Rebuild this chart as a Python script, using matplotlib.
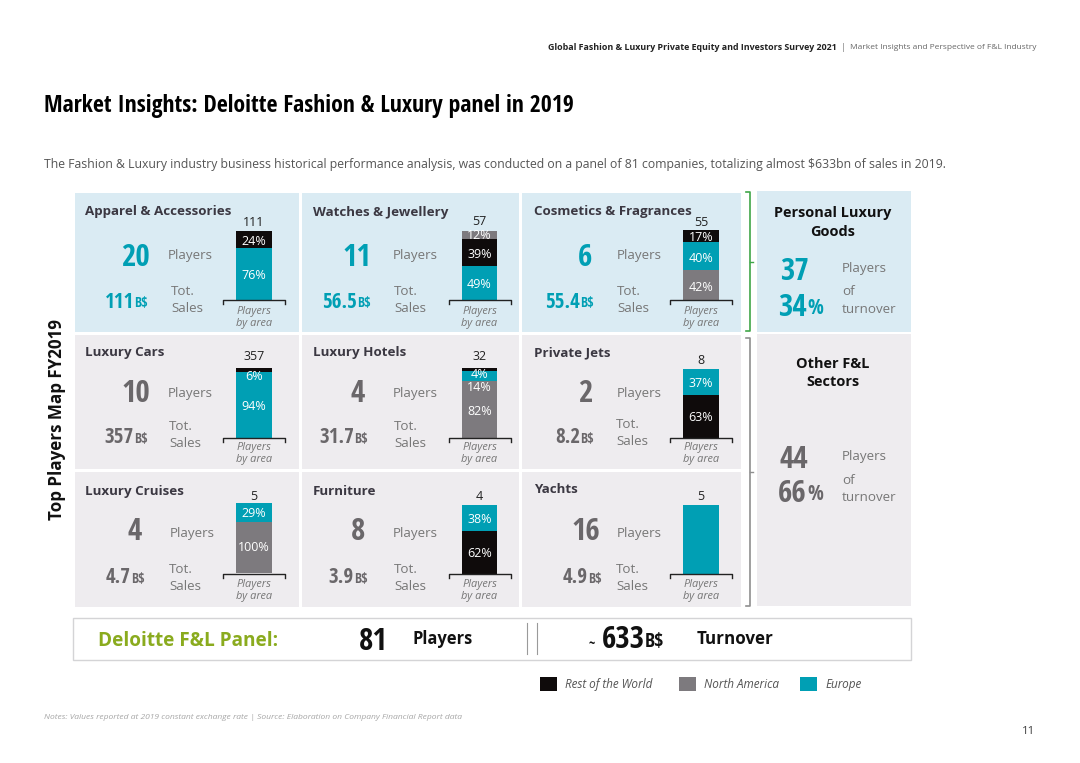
import logging
import matplotlib
matplotlib.use('Agg')
from matplotlib import pyplot as plt
from matplotlib.patches import Rectangle

logging.getLogger('matplotlib.font_manager').setLevel(logging.ERROR)

# ---- data
panel_names = ['Apparel & Accessories', 'Watches & Jewellery', 'Cosmetics & Fragrances',
               'Luxury Cars', 'Luxury Hotels', 'Private Jets',
               'Luxury Cruises', 'Furniture', 'Yachts']
panel_players = ['20', '11', '6', '10', '4', '2', '4', '8', '16']
panel_sales = ['111', '56.5', '55.4', '357', '31.7', '8.2', '4.7', '3.9', '4.9']
panel_totals = ['111', '57', '55', '357', '32', '8', '5', '4', '5']

# stacks go bottom to top
bar_values = [[76, 24], [49, 39, 12], [42, 40, 17],
              [94, 6], [82, 14, 4], [63, 37],
              [73, 27], [62, 38], [100]]
bar_areas = [['eu', 'row'], ['eu', 'row', 'na'], ['na', 'eu', 'row'],
             ['eu', 'row'], ['na', 'eu', 'row'], ['row', 'eu'],
             ['na', 'eu'], ['row', 'eu'], ['eu']]
bar_labels = [['76%', '24%'], ['49%', '39%', '12%'], ['42%', '40%', '17%'],
              ['94%', '6%'], ['82%', '14%', '4%'], ['63%', '37%'],
              ['100%', '29%'], ['62%', '38%'], []]

group_names = [['Personal Luxury', 'Goods'], ['Other F&L', 'Sectors']]
group_players = ['37', '44']
group_share = ['34', '66']

legend_names = ['Rest of the World', 'North America', 'Europe']

# ---- styles
TEAL = '#009fb4'
BLACK = '#0f0b0b'
GREY = '#7d7a7e'
BLUE_BG = '#daebf3'
GREY_BG = '#eeecef'
DARK_NUM = '#6a676a'
TXT = '#777777'
TITLE = '#3b3842'
area_color = {'eu': TEAL, 'row': BLACK, 'na': GREY}

SANS = ['Open Sans']
LIGHT = ['Open Sans Light', 'Open Sans']
NARROW = ['Open Sans Condensed', 'Fira Sans Extra Condensed', 'Roboto Condensed', 'Open Sans']

W, H = 1080, 763


def pt(px):
    return px * 0.72


# ---- layout in pixels
panel_rects = [(75, 193, 224, 139), (302, 193, 217, 139), (522, 193, 219, 139),
               (75, 335, 224, 134), (302, 335, 217, 134), (522, 335, 219, 134),
               (75, 472, 224, 135), (302, 472, 217, 135), (522, 472, 219, 135)]
bar_rects = [(236, 231, 36, 69), (462, 231, 35, 69), (683, 230, 36, 70),
             (236, 368, 36, 70), (462, 368, 35, 70), (683, 369, 36, 69),
             (236, 503, 36, 70), (462, 505, 35, 69), (683, 505, 36, 69)]
label_ys = [[275, 241], [284, 254, 235], [287, 258, 237],
            [406, 376], [411, 387, 374], [417, 383],
            [547, 513], [553, 519], []]
title_pos = [(85, 210), (313, 211), (534, 210), (85, 351), (313, 351), (534, 351),
             (85, 490), (313, 490), (534, 488)]
num_pos = [(135, 256), (357, 256), (585, 256), (136, 393), (358, 393), (585, 393),
           (135, 531), (358, 531), (586, 531)]
players_pos = [(168, 254), (393, 254), (617, 254), (168, 392), (393, 392), (617, 392),
               (170, 532), (393, 532), (617, 532)]
sales_pos = [(134, 301), (357, 301), (580, 301), (134, 436), (354, 436), (580, 436),
             (131, 576), (354, 576), (588, 576)]
tot_pos = [(171, 290), (394, 290), (617, 290), (169, 425), (394, 425), (616, 423),
           (169, 568), (394, 568), (616, 568)]
total_y = [221, 220, 221, 355, 355, 359, 495, 495, 495]
bracket_y = [300, 300, 300, 438, 438, 438, 574, 574, 574]
area_y = [311, 311, 311, 447, 447, 447, 584, 584, 584]

fig = plt.figure(figsize=(W / 100, H / 100), dpi=100, facecolor='white')

back = fig.add_axes([0, 0, 1, 1], zorder=0)
back.set_xlim(0, W)
back.set_ylim(H, 0)
back.axis('off')

page = fig.add_axes([0, 0, 1, 1], zorder=2)
page.set_xlim(0, W)
page.set_ylim(H, 0)
page.axis('off')
page.patch.set_alpha(0)


def txt(x, y, s, size, color=TXT, weight='normal', ha='left', family=SANS, **kw):
    return page.text(x, y + 1.5, s, fontsize=pt(size), color=color, fontweight=weight, ha=ha,
                     va='center', family=family, **kw)


# nine sector panels
for i, name in enumerate(panel_names):
    x, y, w, h = panel_rects[i]
    bg = BLUE_BG if i < 3 else GREY_BG
    num_col = TEAL if i < 3 else DARK_NUM
    back.add_patch(Rectangle((x, y), w, h, color=bg, lw=0))

    bx, by, bw, bh = bar_rects[i]
    ax = fig.add_axes([bx / W, 1 - (by + bh) / H, bw / W, bh / H], zorder=1)
    bottom = 0
    for val, area in zip(bar_values[i], bar_areas[i]):
        ax.bar(0, val, width=1, bottom=bottom, color=area_color[area], linewidth=0)
        bottom += val
    ax.set_xlim(-0.5, 0.5)
    ax.set_ylim(0, bottom)
    ax.axis('off')

    for lab, ly in zip(bar_labels[i], label_ys[i]):
        txt(bx + bw / 2, ly - 1, lab, 12.5, color='white', ha='center')

    txt(title_pos[i][0], title_pos[i][1], name, 13.4, color=TITLE, weight='bold')
    txt(num_pos[i][0], num_pos[i][1], panel_players[i], 31, color=num_col, weight='bold',
        ha='center', family=NARROW)
    txt(players_pos[i][0], players_pos[i][1], 'Players', 13.4, family=LIGHT)
    txt(sales_pos[i][0], sales_pos[i][1], panel_sales[i], 21, color=num_col, weight='bold',
        ha='right', family=NARROW)
    txt(sales_pos[i][0], sales_pos[i][1] + 1, 'B$', 14, color=num_col, weight='bold',
        family=NARROW)
    txt(tot_pos[i][0], tot_pos[i][1], 'Tot.', 13.4, family=LIGHT)
    txt(tot_pos[i][0], tot_pos[i][1] + 17, 'Sales', 13.4, family=LIGHT)

    cx = bx + bw / 2
    txt(cx, total_y[i], panel_totals[i], 12.5, color='#222222', ha='center')
    by2 = bracket_y[i]
    page.plot([cx - 31, cx - 31, cx + 31, cx + 31], [by2 + 4, by2, by2, by2 + 4],
              color='#222222', lw=1)
    txt(cx, area_y[i] - 1, 'Players', 11, ha='center', style='italic')
    txt(cx, area_y[i] + 11, 'by area', 11, ha='center', style='italic')

# right hand group panels
group_rects = [(757, 191, 154, 141), (757, 334, 154, 272)]
group_bg = [BLUE_BG, GREY_BG]
group_col = [TEAL, DARK_NUM]
group_title_y = [212, 362]
group_num_y = [270, 458]
group_share_y = [306, 492]
group_lab_y = [(267, 290, 308), (455, 479, 496)]
for i in range(2):
    x, y, w, h = group_rects[i]
    back.add_patch(Rectangle((x, y), w, h, color=group_bg[i], lw=0))
    txt(833, group_title_y[i], group_names[i][0], 14.5, color='#111111', weight='bold', ha='center')
    txt(833, group_title_y[i] + 18, group_names[i][1], 14.5, color='#111111', weight='bold', ha='center')
    txt(794, group_num_y[i], group_players[i], 31, color=group_col[i], weight='bold', ha='center', family=NARROW)
    txt(807, group_share_y[i], group_share[i], 31, color=group_col[i], weight='bold', ha='right', family=NARROW)
    txt(807, group_share_y[i] + 1, '%', 21, color=group_col[i], weight='bold', family=NARROW)
    txt(842, group_lab_y[i][0], 'Players', 13.4, family=LIGHT)
    txt(842, group_lab_y[i][1], 'of', 13.4, family=LIGHT)
    txt(842, group_lab_y[i][2], 'turnover', 13.4, family=LIGHT)

# side brackets
bracket_spec = [(192, 331, 262, '#3fa648'), (338, 606, 472, '#8f8f8f')]
for top, bot, mid, col in bracket_spec:
    page.plot([746, 750, 750, 746], [top, top, bot, bot], color=col, lw=1.2)
    page.plot([750, 753], [mid, mid], color=col, lw=1)

# page header and titles
txt(548, 46, 'Global Fashion & Luxury Private Equity and Investors Survey 2021', 8.85,
    color='#222222', weight='bold')
txt(841, 46, '|', 9, color='#777777')
txt(850, 46, 'Market Insights and Perspective of F&L Industry', 8.37, color='#666666')
txt(44, 104, 'Market Insights: Deloitte Fashion & Luxury panel in 2019', 23.8,
    color='black', weight='bold', family=NARROW)
txt(44, 163, 'The Fashion & Luxury industry business historical performance analysis, was conducted '
             'on a panel of 81 companies, totalizing almost $633bn of sales in 2019.', 12.27,
    color='#555555')
page.text(57, 419, 'Top Players Map FY2019', fontsize=pt(17), color='#111111', fontweight='bold',
          rotation=90, ha='center', va='center', family=SANS)

# panel total strip
back.add_patch(Rectangle((73, 618), 838, 42, facecolor='white', edgecolor='#d4d4d6', lw=1))
txt(98, 640, 'Deloitte F&L Panel:', 19, color='#8aab1e', weight='bold')
txt(373, 641, '81', 31, color='#111111', weight='bold', ha='center', family=NARROW)
txt(412, 638, 'Players', 16.5, color='#111111', weight='bold')
page.plot([527, 527], [623, 654], color='#9a9a9a', lw=0.8)
page.plot([537, 537], [623, 654], color='#9a9a9a', lw=0.8)
txt(592, 642, '~', 14, color='#111111', weight='bold', ha='center', family=NARROW)
txt(645, 639, '633', 31, color='#111111', weight='bold', ha='right', family=NARROW)
txt(645, 641, 'B$', 20, color='#111111', weight='bold', family=NARROW)
txt(697, 638, 'Turnover', 17, color='#111111', weight='bold')

# legend
legend_colors = [BLACK, GREY, TEAL]
legend_x = [540, 679, 800]
for nm, col, lx in zip(legend_names, legend_colors, legend_x):
    back.add_patch(Rectangle((lx, 677), 17, 14, color=col, lw=0))
    txt(lx + 25, 683, nm, 11.7, color='#555555', style='italic')

txt(44, 716, 'Notes: Values reported at 2019 constant exchange rate | Source: Elaboration on Company '
             'Financial Report data', 8.5, color='#a8a8a8', style='italic')
txt(1029, 730, '11', 11.5, color='#444444', ha='center')

fig.savefig('out.png', dpi=100)
